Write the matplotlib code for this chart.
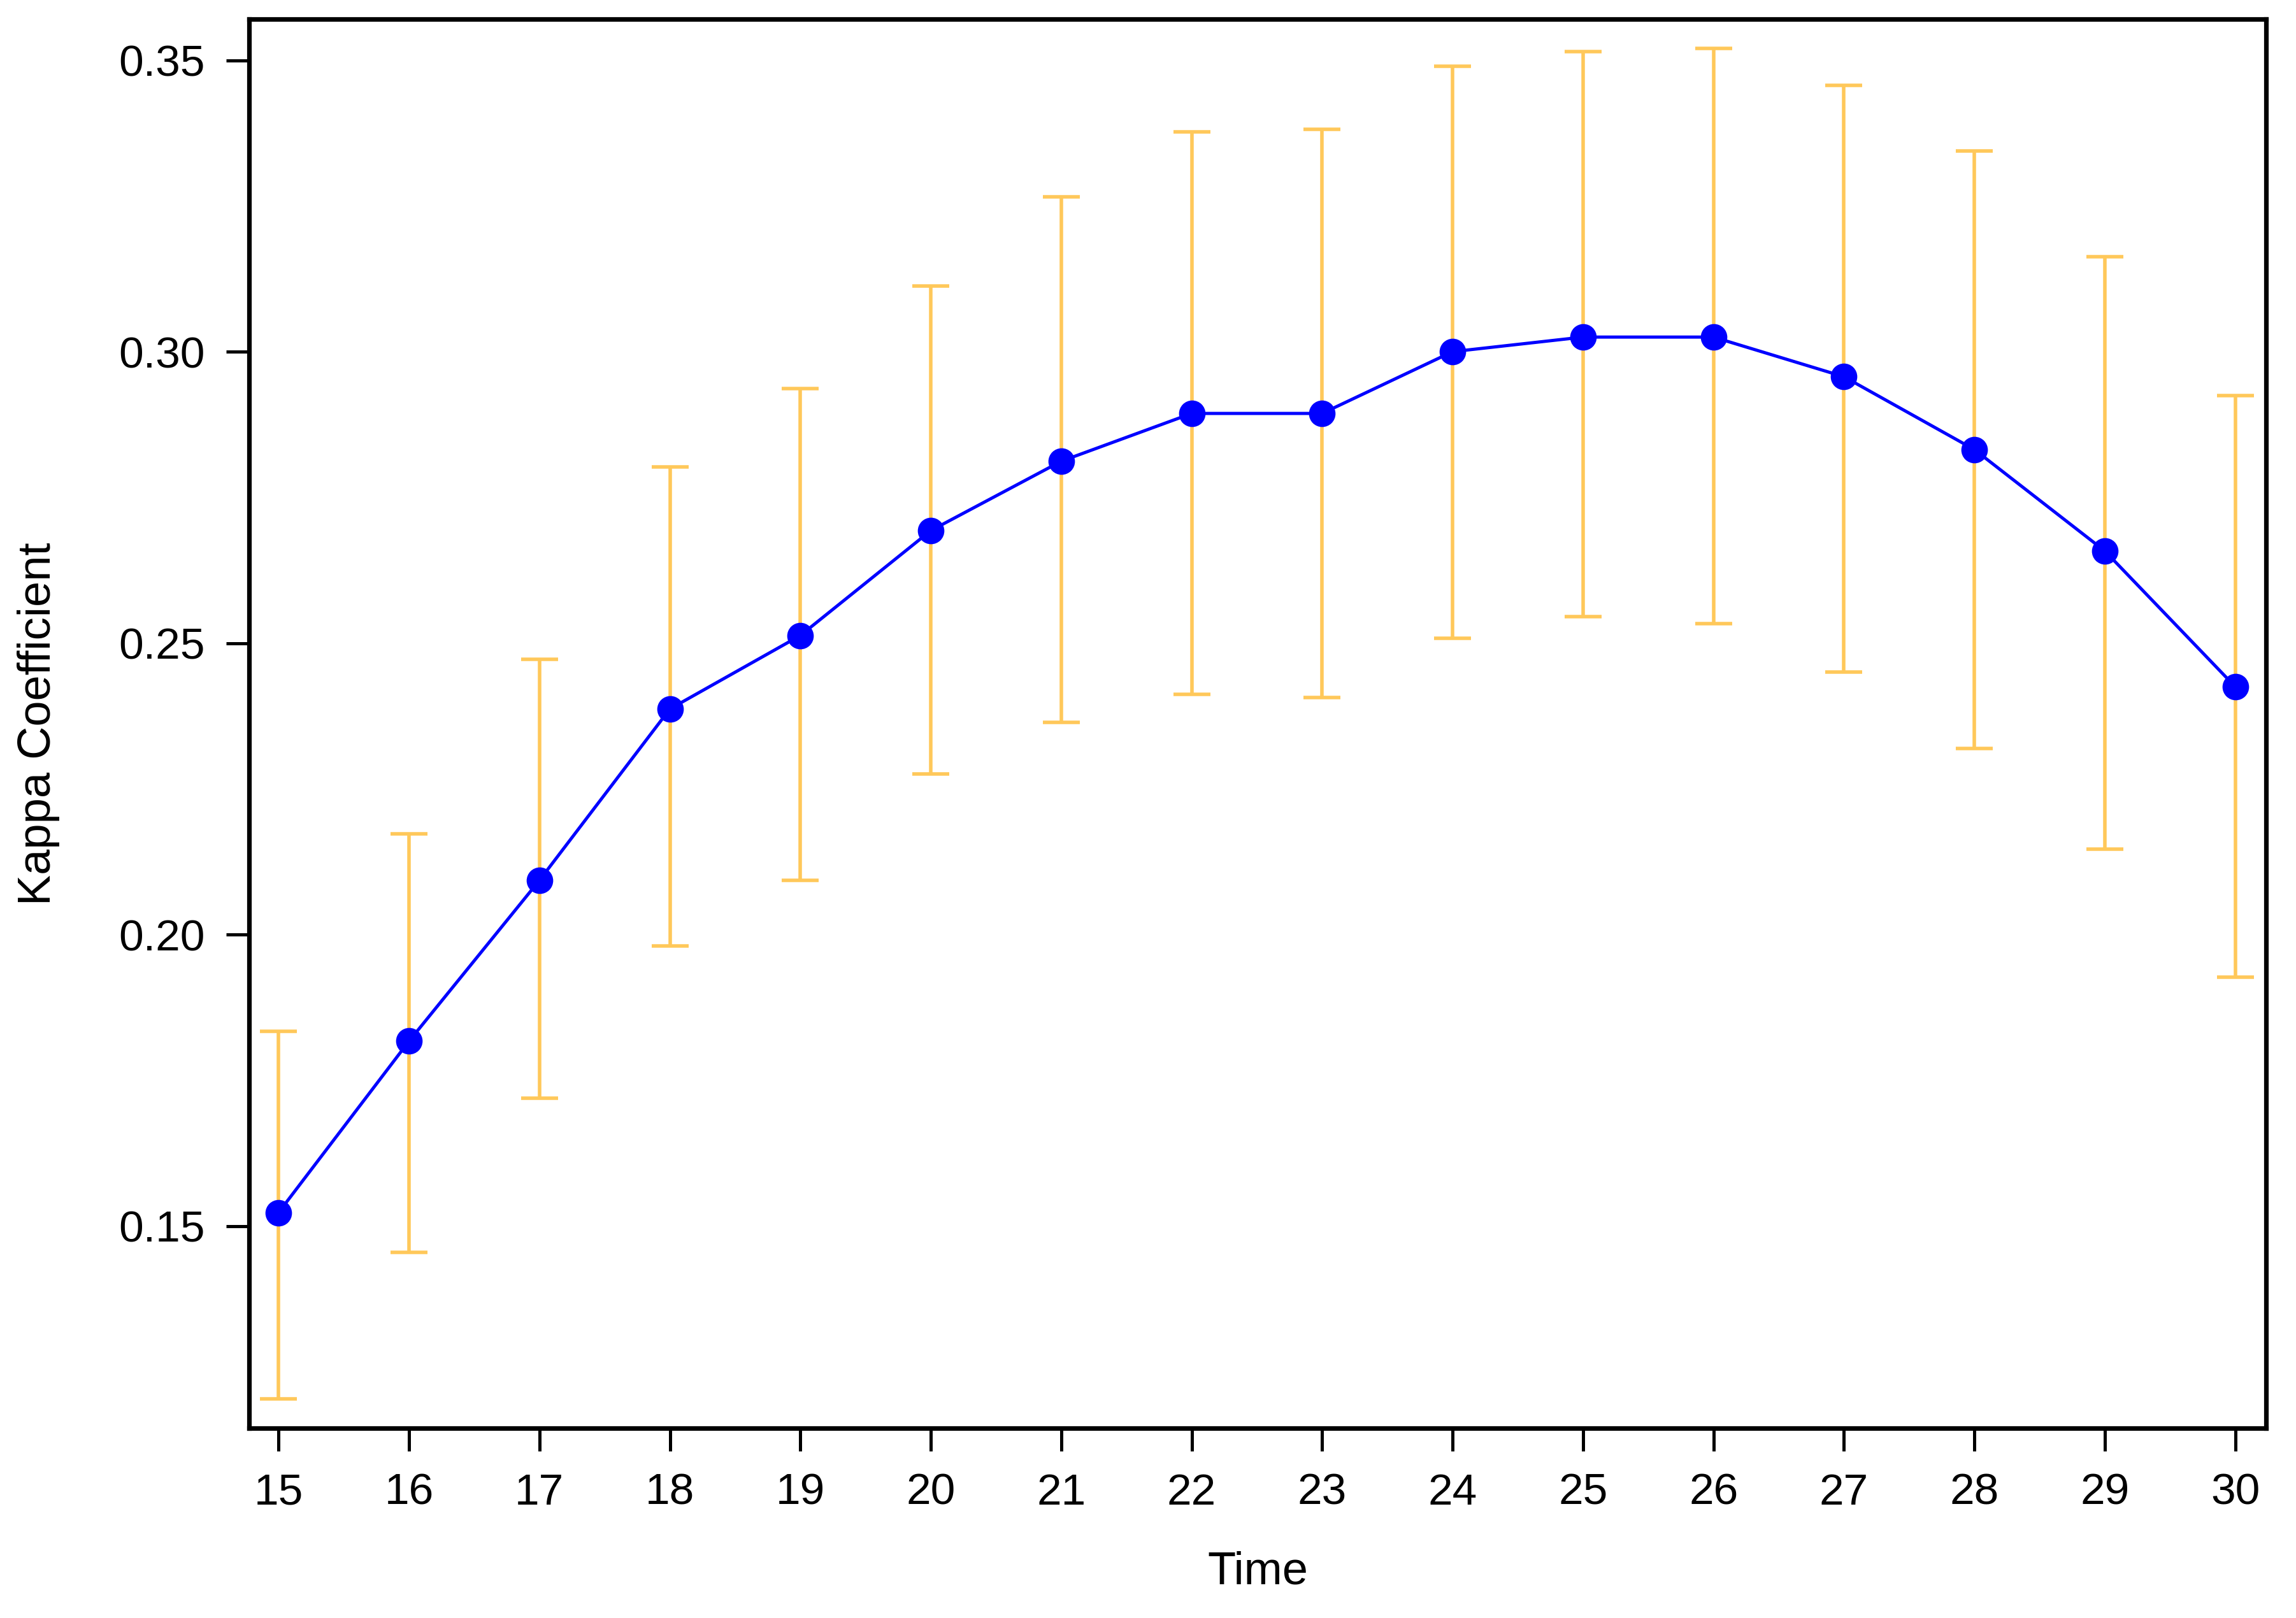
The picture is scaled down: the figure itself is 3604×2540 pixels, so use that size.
import numpy as np
import matplotlib
matplotlib.use("Agg")
import matplotlib.pyplot as plt

plt.rcParams["font.family"] = ["Liberation Sans", "DejaVu Sans"]

# values
time = [15, 16, 17, 18, 19, 20, 21, 22, 23, 24, 25, 26, 27, 28, 29, 30]
kappa = [0.1523, 0.1817, 0.2093, 0.2387, 0.2513, 0.2693, 0.2812, 0.2894,
         0.2894, 0.3000, 0.3025, 0.3025, 0.2957, 0.2832, 0.2658, 0.2425]
lower = [0.1203, 0.1455, 0.1719, 0.1980, 0.2093, 0.2276, 0.2364, 0.2412,
         0.2407, 0.2508, 0.2545, 0.2533, 0.2450, 0.2319, 0.2146, 0.1927]
upper = [0.1834, 0.2173, 0.2472, 0.2802, 0.2937, 0.3113, 0.3266, 0.3377,
         0.3382, 0.3490, 0.3515, 0.3520, 0.3457, 0.3344, 0.3163, 0.2925]

yticks = [0.15, 0.20, 0.25, 0.30, 0.35]

kappa = np.array(kappa)
yerr = [kappa - np.array(lower), np.array(upper) - kappa]

fig = plt.figure(figsize=(18.025, 12.7), dpi=200)
ax = fig.add_axes([0.1085, 0.1173, 0.8782, 0.8707])

ax.errorbar(time, kappa, yerr=yerr, fmt="none", ecolor="#FFC85A",
            elinewidth=2.0, capsize=10.5, capthick=2.0, zorder=2)
ax.plot(time, kappa, color="#0000FF", lw=1.8, marker="o", ms=15,
        markeredgewidth=0, zorder=3)

ax.set_xlim(14.775, 30.236)
ax.set_ylim(0.1153, 0.357)
ax.set_xticks(time)
ax.set_yticks(yticks)
ax.set_yticklabels(["%.2f" % v for v in yticks])

for s in ax.spines.values():
    s.set_linewidth(2.6)
ax.tick_params(direction="out", length=13, width=1.8, labelsize=25, pad=12)

ax.set_xlabel("Time", fontsize=26)
ax.set_ylabel("Kappa Coefficient", fontsize=26)
ax.xaxis.set_label_coords(0.5, -0.087)
ax.yaxis.set_label_coords(-0.094, 0.5)

fig.savefig("out.png", dpi=200)
plt.close(fig)
